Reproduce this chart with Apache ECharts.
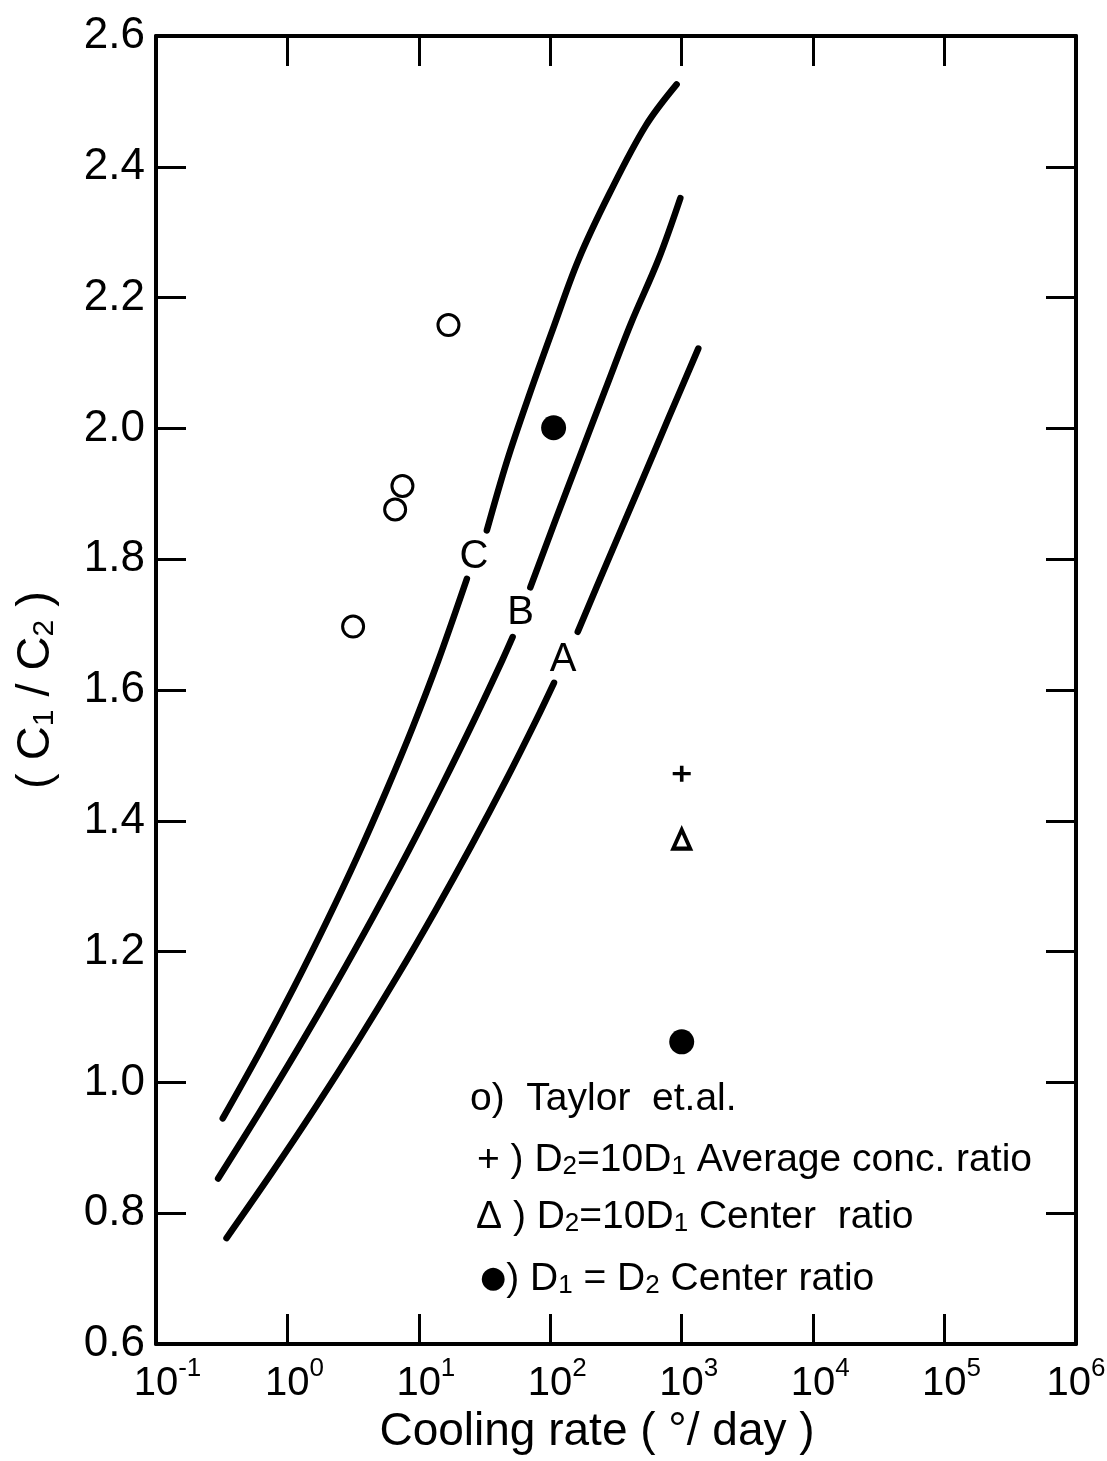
<!DOCTYPE html>
<html><head><meta charset="utf-8">
<script src="https://cdn.jsdelivr.net/npm/echarts@6/dist/echarts.min.js"></script>
<style>html,body{margin:0;padding:0;background:#fff}#c{width:1107px;height:1461px}</style>
</head><body><div id="c"></div>
<script>
// ---- data ----
const xTickExponents = ['-1','0','1','2','3','4','5','6'];   // 10^e labels
const yTickLabels = ['0.6','0.8','1.0','1.2','1.4','1.6','1.8','2.0','2.2','2.4','2.6'];

// curves (null = gap where the letter label sits)
const curveA = [[0.344,0.762],[0.762,0.862],[1.637,0.962],[3.40,1.062],[6.84,1.162],[13.3,1.262],[25.1,1.362],[46.0,1.462],[78.1,1.554],[106.7,1.611],
  null,[161.8,1.689],[277,1.800],[468,1.907],[791,2.015],[1337,2.122]];
const curveB = [[0.297,0.853],[0.608,0.953],[1.215,1.053],[2.365,1.153],[4.48,1.253],[8.29,1.353],[14.9,1.453],[26.2,1.553],[43.0,1.645],[51.7,1.681],
  null,[70.5,1.757],[109.7,1.860],[169.6,1.960],[263,2.060],[410,2.160],[667,2.259],[976,2.352]];
const curveC = [[0.322,0.945],[0.611,1.045],[1.119,1.145],[1.98,1.245],[3.40,1.345],[5.63,1.445],[9.02,1.544],[14.0,1.644],[23.2,1.770],
  null,[32.9,1.844],[47,1.951],[70,2.054],[106,2.155],[164,2.258],[285,2.361],[533,2.463],[915,2.526]];

const taylor = [[3.16,1.697],[6.6,1.876],[7.5,1.912],[16.8,2.158]];
const avgConcRatio10 = [[1000,1.472]];
const centerRatio10 = [[1000,1.372]];
const centerRatioEq = [[106,2.001],[1000,1.062]];
const curveLabels = [['C',26.2,1.803],['B',59.4,1.718],['A',125,1.646]];

const legendLines = [
  'o)  Taylor  et.al.',
  '+ ) D{sub|2}=10D{sub|1} Average conc. ratio',
  '\u0394 ) D{sub|2}=10D{sub|1} Center  ratio',
  '{dot|\u25CF}) D{sub|1} = D{sub|2} Center ratio'
];

// ---- chart ----
const FF = 'Liberation Sans';
const chart = echarts.init(document.getElementById('c'), null, {renderer:'canvas'});

function segments(arr){
  const out=[[]];
  arr.forEach(p=>{ if(p===null) out.push([]); else out[out.length-1].push(p); });
  return out;
}
const curveSeries = [];
[curveA,curveB,curveC].forEach(c=>{
  segments(c).forEach(seg=>{
    curveSeries.push({type:'line', data:seg, smooth:0.35, symbol:'none', silent:true,
      lineStyle:{color:'#000', width:6.5, cap:'round', join:'round', opacity:1}, z:2});
  });
});

const axisLineStyle = {color:'#000', width:4};
const tickStyle = {color:'#000', width:3};

function xLab(v){
  const e = Math.round(Math.log10(v));
  const s = xTickExponents[e+1];
  if (e === 6) return '{b|10}{s|' + s + '}';
  return '{' + (s.length > 1 ? 'sp2' : 'sp1') + '|}{b|10}{s|' + s + '}';
}

const option = {
  animation:false,
  backgroundColor:'#fff',
  grid:{left:156, right:31, top:36, bottom:117, containLabel:false, outerBoundsMode:'none'},
  xAxis:[
    {type:'log', logBase:10, min:0.1, max:1e6, position:'bottom',
     axisLine:{show:true, onZero:false, lineStyle:axisLineStyle},
     axisTick:{show:true, inside:true, length:30, lineStyle:tickStyle},
     minorTick:{show:false}, splitLine:{show:false},
     axisLabel:{show:true, margin:12, showMinLabel:true, showMaxLabel:true, formatter:xLab,
       rich:{
         b:{fontSize:40, fontFamily:FF, color:'#000', lineHeight:48, verticalAlign:'bottom'},
         s:{fontSize:26, fontFamily:FF, color:'#000', lineHeight:26, verticalAlign:'top'},
         sp1:{width:14}, sp2:{width:23}
       }},
     name:'Cooling rate ( \u00B0/ day )', nameLocation:'middle', nameGap:64,
     nameTextStyle:{fontSize:46, fontFamily:FF, color:'#000', padding:[0,38,0,0]}
    },
    {type:'log', logBase:10, min:0.1, max:1e6, position:'top',
     axisLine:{show:true, onZero:false, lineStyle:axisLineStyle},
     axisTick:{show:true, inside:true, length:30, lineStyle:tickStyle},
     minorTick:{show:false}, splitLine:{show:false}, axisLabel:{show:false}}
  ],
  yAxis:[
    {type:'value', min:0.6, max:2.6, interval:0.2, position:'left',
     axisLine:{show:true, onZero:false, lineStyle:axisLineStyle},
     axisTick:{show:true, inside:true, length:30, lineStyle:tickStyle},
     splitLine:{show:false},
     axisLabel:{show:true, margin:11, showMinLabel:true, showMaxLabel:true,
       fontSize:44, fontFamily:FF, color:'#000',
       formatter:v=>{ const i=Math.round((v-0.6)/0.2); return yTickLabels[i]; }},
     name:'( C{sub|1} / C{sub|2} )', nameLocation:'middle', nameGap:96, nameRotate:90,
     nameTextStyle:{fontSize:47, fontFamily:FF, color:'#000',
       rich:{sub:{fontSize:30, fontFamily:FF, color:'#000', verticalAlign:'bottom', lineHeight:30}}}
    },
    {type:'value', min:0.6, max:2.6, interval:0.2, position:'right',
     axisLine:{show:true, onZero:false, lineStyle:axisLineStyle},
     axisTick:{show:true, inside:true, length:30, lineStyle:tickStyle},
     splitLine:{show:false}, axisLabel:{show:false}}
  ],
  series: curveSeries.concat([
    {type:'scatter', data:curveLabels.map(d=>({name:d[0], value:[d[1],d[2]]})),
     symbolSize:1, itemStyle:{color:'rgba(255,255,255,0)', opacity:1}, z:3, silent:true,
     label:{show:true, position:'inside', formatter:'{b}', fontSize:40, fontFamily:FF, color:'#000', opacity:1}},
    {type:'scatter', data:taylor, symbol:'circle', symbolSize:21, z:4,
     itemStyle:{color:'#fff', borderColor:'#000', borderWidth:3, opacity:1}},
    {type:'scatter', data:avgConcRatio10, symbol:'path://M4,0h2v4h4v2h-4v4h-2v-4h-4v-2h4z', symbolSize:[18,16], z:4,
     itemStyle:{color:'#000', opacity:1}},
    {type:'scatter', data:centerRatio10, symbol:'triangle', symbolSize:[17,19], z:4,
     itemStyle:{color:'#fff', borderColor:'#000', borderWidth:4, opacity:1}},
    {type:'scatter', data:centerRatioEq, symbol:'circle', symbolSize:25, z:4,
     itemStyle:{color:'#000', opacity:1}}
  ]),
  graphic: legendLines.map((t,i)=>({
    type:'text', x:[470,477,476,480][i], y:[1099,1160,1217,1279][i], z:10,
    style:{text:t, fontSize:39, fontFamily:FF, fill:'#000', verticalAlign:'middle', align:'left',
      rich:{sub:{fontSize:26, fontFamily:FF, fill:'#000', verticalAlign:'bottom', lineHeight:26},
            dot:{fontSize:30, fontFamily:'DejaVu Sans', fill:'#000', verticalAlign:'middle'}}}
  }))
};
chart.setOption(option);
</script></body></html>
